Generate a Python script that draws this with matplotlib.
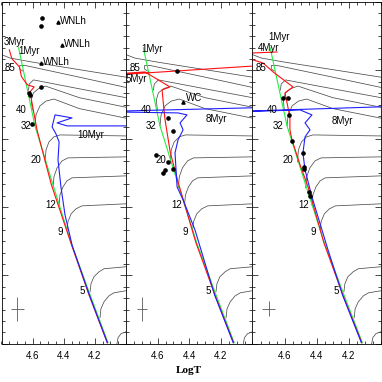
import numpy as np
import matplotlib.pyplot as plt
from matplotlib.ticker import MultipleLocator

# ---- data (log Teff, log L) ----
# evolutionary tracks, one list of (logT, logL) per mass
track_120 = [(4.80, 6.23), (4.745, 6.18), (4.60, 6.12), (4.30, 6.01), (4.0, 5.90)]
track_85 = [(4.664, 5.99), (4.683, 6.02), (4.683, 6.07), (4.645, 6.07), (4.30, 5.90), (4.0, 5.75)]
track_60 = [(4.627, 5.71), (4.621, 5.80), (4.595, 5.86), (4.30, 5.73), (4.0, 5.60)]
track_40 = [(4.602, 5.42), (4.608, 5.57), (4.595, 5.67), (4.563, 5.73), (4.518, 5.77), (4.30, 5.60), (4.0, 5.46)]
track_32 = [(4.585, 5.19), (4.578, 5.35), (4.553, 5.48), (4.514, 5.55), (4.463, 5.58), (4.30, 5.44), (4.0, 5.30)]
track_20 = [(4.520, 4.661), (4.514, 4.836), (4.495, 4.953), (4.463, 5.027), (4.424, 5.055), (4.0, 5.04)]
track_15 = [(4.469, 4.281), (4.463, 4.442), (4.443, 4.573), (4.411, 4.675), (4.373, 4.719), (4.0, 4.734)]
track_12 = [(4.430, 4.032), (4.424, 4.178), (4.405, 4.295), (4.379, 4.383), (4.347, 4.427), (4.0, 4.456)]
track_9 = [(4.379, 3.667), (4.373, 3.784), (4.353, 3.900), (4.321, 3.974), (4.283, 4.017), (4.0, 4.047)]
track_5 = [(4.231, 2.760), (4.225, 2.877), (4.206, 2.980), (4.173, 3.053), (4.141, 3.097), (4.0, 3.126)]
track_4 = [(4.167, 2.380), (4.161, 2.511), (4.141, 2.614), (4.109, 2.702), (4.077, 2.745), (4.0, 2.775)]
track_3 = [(4.058, 2.000), (4.051, 2.088), (4.032, 2.146), (4.0, 2.175)]
tracks = [track_120, track_85, track_60, track_40, track_32, track_20,
          track_15, track_12, track_9, track_5, track_4, track_3]

mass_labels = ['85', '40', '32', '20', '12', '9', '5']
mass_label_T = [4.745, 4.675, 4.643, 4.578, 4.482, 4.424, 4.279]
mass_label_L = [6.028, 5.421, 5.187, 4.690, 4.032, 3.637, 2.767]

# 1 Myr isochrone (green, same in every panel)
iso1_T = [4.690, 4.636, 4.585, 4.469, 4.353, 4.231, 4.116]
iso1_L = [6.330, 5.743, 5.187, 4.325, 3.477, 2.716, 2.015]

# panel 1: 3 Myr (red) and 10 Myr (blue)
iso3_T = [4.750, 4.733, 4.685, 4.672, 4.635, 4.590, 4.617, 4.598, 4.572, 4.480, 4.355, 4.238, 4.120]
iso3_L = [6.300, 6.170, 6.050, 5.910, 5.790, 5.757, 5.684, 5.450, 5.130, 4.330, 3.480, 2.716, 2.015]
iso10_T = [4.120, 4.236, 4.345, 4.392, 4.418, 4.437, 4.430, 4.450, 4.475, 4.456, 4.347, 4.443, 4.379, 3.95]
iso10_L = [2.015, 2.716, 3.430, 3.886, 4.295, 4.690, 4.953, 5.070, 5.173, 5.348, 5.304, 5.231, 5.187, 5.187]

# panel 2: 5 Myr (red) and 8 Myr (blue)
iso5_T = [4.120, 4.238, 4.358, 4.469, 4.520, 4.553, 4.566, 4.572, 4.522, 4.680, 4.850, 4.775, 4.477, 3.95]
iso5_L = [2.015, 2.716, 3.480, 4.349, 4.800, 5.275, 5.567, 5.713, 5.757, 5.977, 5.950, 5.947, 5.991, 6.070]
iso8_T = [4.122, 4.240, 4.364, 4.439, 4.477, 4.490, 4.471, 4.439, 4.458, 4.414, 4.471, 4.900, 4.800, 3.95]
iso8_L = [2.015, 2.716, 3.667, 4.105, 4.295, 4.792, 4.982, 5.129, 5.231, 5.348, 5.377, 5.392, 5.406, 5.455]

# panel 3: 4 Myr (red), 8 Myr (blue) again
iso4_T = [4.120, 4.238, 4.356, 4.454, 4.504, 4.554, 4.567, 4.567, 4.585, 4.598, 4.548, 4.672, 4.735,
          4.797, 4.880, 4.800, 4.647]
iso4_L = [2.015, 2.716, 3.480, 4.295, 4.617, 4.982, 5.129, 5.319, 5.523, 5.670, 5.757, 5.977, 6.108,
          6.152, 6.196, 6.254, 6.269]
iso8b_T = [4.122, 4.240, 4.330, 4.430, 4.473, 4.486, 4.473, 4.442, 4.473, 4.430, 4.504, 4.900, 4.800, 3.95]
iso8b_L = [2.015, 2.716, 3.374, 4.149, 4.544, 4.792, 5.026, 5.129, 5.231, 5.348, 5.421, 5.392, 5.406, 5.470]

# stars
p1_dots_T = [4.540, 4.546, 4.546, 4.617, 4.623, 4.604]
p1_dots_L = [6.766, 6.649, 5.757, 5.640, 5.670, 5.216]
p1_wn_T = [4.437, 4.411, 4.546]
p1_wn_L = [6.708, 6.371, 6.108]

p2_dots_T = [4.477, 4.534, 4.503, 4.610, 4.534, 4.553, 4.566, 4.503]
p2_dots_L = [5.991, 5.304, 5.114, 4.763, 4.661, 4.544, 4.500, 4.558]
p2_wc_T = [4.439]
p2_wc_L = [5.538]

p3_dots_T = [4.610, 4.579, 4.573, 4.554, 4.486, 4.479, 4.479, 4.448, 4.442]
p3_dots_L = [5.596, 5.596, 5.348, 4.968, 4.792, 4.588, 4.558, 4.222, 4.164]

# typical error bars (logT, logL, errT, errL)
err_T = [4.70, 4.70, 4.70]
err_L = [2.51, 2.51, 2.51]
err_dT = [0.042, 0.032, 0.042]
err_dL = [0.18, 0.18, 0.11]

GREEN = '#22ee44'
RED = '#ff1010'
BLUE = '#2020ff'

plt.rcParams['font.family'] = ['Liberation Sans', 'DejaVu Sans']

fig = plt.figure(figsize=(3.82, 3.82), dpi=100)
W = 382.0
edges = [1.5, 126.0, 252.5, 381.0]
bottom = 1 - 343.7 / W
height = (343.7 - 2.0) / W
axes = []
for i in range(3):
    ax = fig.add_axes([edges[i] / W, bottom, (edges[i + 1] - edges[i]) / W, height])
    axes.append(ax)


def base(ax):
    for tr in tracks:
        t = [p[0] for p in tr]
        l = [p[1] for p in tr]
        ax.plot(t, l, color='0.3', lw=0.55)
    for lab, t, l in zip(mass_labels, mass_label_T, mass_label_L):
        ax.text(t, l, lab, fontsize=7, ha='center', va='center')
    ax.plot(iso1_T, iso1_L, color=GREEN, lw=0.8)
    ax.set_xlim(4.8, 4.0)
    ax.set_ylim(2.0, 7.0)
    ax.set_xticks([4.6, 4.4, 4.2])
    ax.set_xticklabels(['4.6', '4.4', '4.2'])
    ax.xaxis.set_minor_locator(MultipleLocator(0.05))
    ax.yaxis.set_major_locator(MultipleLocator(1.0))
    ax.yaxis.set_minor_locator(MultipleLocator(1 / 6))
    ax.set_yticklabels([])
    ax.tick_params(which='both', direction='in', top=True, right=True, width=0.5, labelsize=7, pad=5)
    ax.tick_params(which='major', length=4)
    ax.tick_params(which='minor', length=2)
    for s in ax.spines.values():
        s.set_linewidth(0.6)


for i, ax in enumerate(axes):
    base(ax)
    ax.errorbar(err_T[i], err_L[i], xerr=err_dT[i], yerr=err_dL[i], fmt='none', ecolor='0.35', elinewidth=0.6)

# panel 1
ax = axes[0]
ax.plot(iso3_T, iso3_L, color=RED, lw=0.8)
ax.plot(iso10_T, iso10_L, color=BLUE, lw=0.8)
ax.plot(p1_dots_T, p1_dots_L, 'o', color='k', ms=2.3)
ax.plot(p1_wn_T, p1_wn_L, '^', color='k', ms=2.3)
for t, l in zip(p1_wn_T, p1_wn_L):
    ax.text(t - 0.012, l + 0.02, 'WNLh', fontsize=7, ha='left', va='center')
ax.text(4.785, 6.42, '3Myr', fontsize=7, ha='left', va='center')
ax.text(4.695, 6.28, '1Myr', fontsize=7, ha='left', va='center')
ax.text(4.225, 5.05, '10Myr', fontsize=7, ha='center', va='center')

# panel 2
ax = axes[1]
ax.plot(iso5_T, iso5_L, color=RED, lw=0.8)
ax.plot(iso8_T, iso8_L, color=BLUE, lw=0.8)
ax.plot(p2_dots_T, p2_dots_L, 'o', color='k', ms=2.3)
ax.plot(p2_wc_T, p2_wc_L, '^', color='k', ms=2.3)
ax.text(p2_wc_T[0] - 0.015, p2_wc_L[0] + 0.06, 'WC', fontsize=7, ha='left', va='center')
ax.text(4.70, 6.31, '1Myr', fontsize=7, ha='left', va='center')
ax.text(4.80, 5.88, '5Myr', fontsize=7, ha='left', va='center')
ax.text(4.228, 5.29, '8Myr', fontsize=7, ha='center', va='center')
ax.set_xlabel('LogT', fontsize=8, fontweight='bold', family='Liberation Serif', labelpad=4)

# panel 3
ax = axes[2]
ax.plot(iso4_T, iso4_L, color=RED, lw=0.8)
ax.plot(iso8b_T, iso8b_L, color=BLUE, lw=0.8)
ax.plot(p3_dots_T, p3_dots_L, 'o', color='k', ms=2.3)
ax.text(4.70, 6.49, '1Myr', fontsize=7, ha='left', va='center')
ax.text(4.77, 6.33, '4Myr', fontsize=7, ha='left', va='center')
ax.text(4.24, 5.26, '8Myr', fontsize=7, ha='center', va='center')

fig.savefig('out.png', dpi=100)
